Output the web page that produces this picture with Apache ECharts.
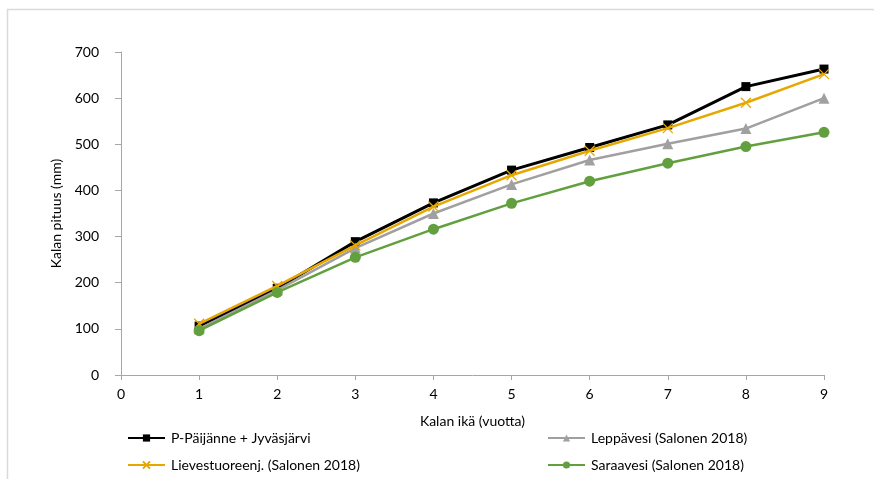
<!DOCTYPE html>
<html>
<head>
<meta charset="utf-8">
<script src="https://cdn.jsdelivr.net/npm/echarts@6/dist/echarts.min.js"></script>
<style>html,body{margin:0;padding:0;background:#fff;}#c{width:874px;height:479px;}</style>
</head>
<body>
<div id="c"></div>
<script>
var ages = [1, 2, 3, 4, 5, 6, 7, 8, 9];
var xTicks = [0, 1, 2, 3, 4, 5, 6, 7, 8, 9];
var yTicks = [0, 100, 200, 300, 400, 500, 600, 700];
var names = ['P-Päijänne + Jyväsjärvi', 'Leppävesi (Salonen 2018)', 'Lievestuoreenj. (Salonen 2018)', 'Saraavesi (Salonen 2018)'];
var paijanne = [106, 188, 289, 373, 444, 493, 542, 625, 663];
var leppavesi = [100, 184, 275, 350, 413, 466, 501, 534, 600];
var lievestuore = [111, 193, 281, 365, 433, 486, 535, 590, 652];
var saraavesi = [96, 179, 255, 316, 372, 420, 459, 495, 526];

function pairs(vals) { return ages.map(function (a, i) { return [a, vals[i]]; }); }
var FONT = 'Lato, "Open Sans", sans-serif';
var chart = echarts.init(document.getElementById('c'), null, {renderer: 'canvas'});
var xPath = 'path://M0,0L10,10M10,0L0,10';
function legend(name, left, top) {
  return {
    data: [name], left: left, top: top, padding: 0, itemWidth: 37, itemHeight: 9, itemGap: 6,
    textStyle: {fontFamily: FONT, fontSize: 14, color: '#000', padding: [0, 0, 0, 1]}
  };
}
chart.setOption({
  animation: false,
  backgroundColor: '#fff',
  graphic: [
    {type: 'line', shape: {x1: 7, y1: 9.5, x2: 874, y2: 9.5}, style: {stroke: '#d9d9d9', lineWidth: 1.5}},
    {type: 'line', shape: {x1: 7.5, y1: 9, x2: 7.5, y2: 479}, style: {stroke: '#d9d9d9', lineWidth: 1.5}}
  ],
  legend: [
    legend(names[0], 127, 431),
    legend(names[1], 547, 431),
    legend(names[2], 127, 458),
    legend(names[3], 547, 458)
  ],
  grid: {left: 121, right: 50, top: 52, bottom: 104},
  xAxis: {
    type: 'value', min: 0, max: 9, interval: 1,
    name: 'Kalan ikä (vuotta)', nameLocation: 'middle', nameGap: 39,
    nameTextStyle: {fontFamily: FONT, fontSize: 14, color: '#000'},
    axisLine: {lineStyle: {color: '#a6a6a6', width: 1}},
    axisTick: {show: true, length: 5, lineStyle: {color: '#a6a6a6'}},
    axisLabel: {fontFamily: FONT, fontSize: 14, color: '#000', margin: 12,
      formatter: function (v) { return xTicks.indexOf(v) >= 0 ? String(v) : ''; }},
    splitLine: {show: false}
  },
  yAxis: {
    type: 'value', min: 0, max: 700, interval: 100,
    name: 'Kalan pituus (mm)', nameLocation: 'middle', nameGap: 50, nameRotate: 90,
    nameTextStyle: {fontFamily: FONT, fontSize: 14, color: '#000'},
    axisLine: {show: true, lineStyle: {color: '#a6a6a6', width: 1}},
    axisTick: {show: true, length: 6, lineStyle: {color: '#a6a6a6'}},
    axisLabel: {fontFamily: FONT, fontSize: 14, color: '#000', margin: 22,
      formatter: function (v) { return yTicks.indexOf(v) >= 0 ? String(v) : ''; }},
    splitLine: {show: false}
  },
  series: [
    {name: names[0], type: 'line', data: pairs(paijanne), symbol: 'rect', symbolSize: 9,
      lineStyle: {color: '#000', width: 3}, itemStyle: {color: '#000'}, z: 3},
    {name: names[1], type: 'line', data: pairs(leppavesi), symbol: 'triangle', symbolSize: 11,
      lineStyle: {color: '#a0a0a0', width: 2.5}, itemStyle: {color: '#a0a0a0'}, z: 4},
    {name: names[2], type: 'line', data: pairs(lievestuore), symbol: xPath, symbolSize: 10,
      lineStyle: {color: '#e6a800', width: 2.5},
      itemStyle: {color: 'rgba(0,0,0,0)', borderColor: '#e6a800', borderWidth: 1.3}, z: 5},
    {name: names[3], type: 'line', data: pairs(saraavesi), symbol: 'circle', symbolSize: 11,
      lineStyle: {color: '#62a03f', width: 2.5}, itemStyle: {color: '#62a03f'}, z: 6}
  ]
});
</script>
</body>
</html>
